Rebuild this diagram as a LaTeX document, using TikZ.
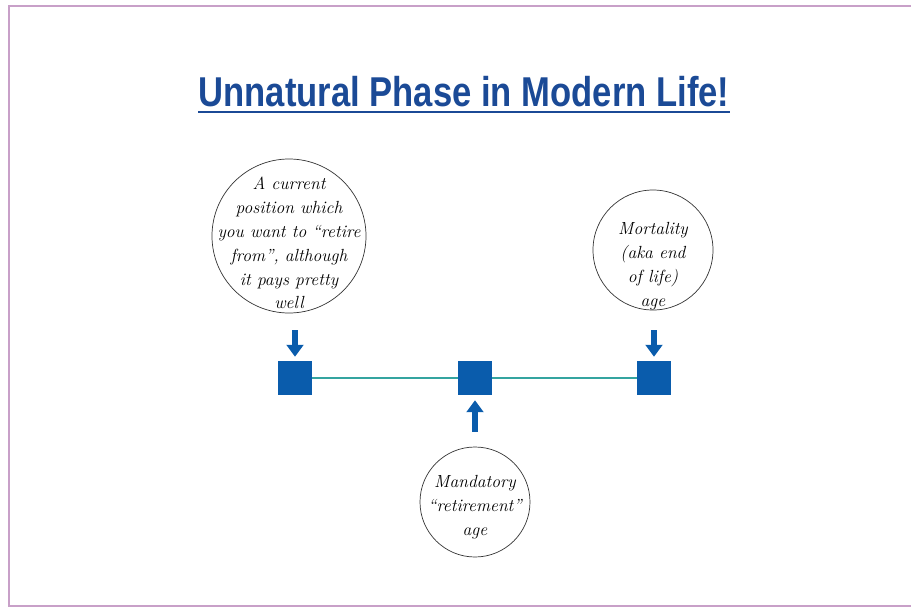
\documentclass[tikz,border=0pt]{standalone}
\usepackage{fontspec}
\usepackage{tikz}
\usetikzlibrary{arrows.meta}
\newfontfamily\headfont{Liberation Sans}

\definecolor{headblue}{RGB}{27,74,150}
\definecolor{boxblue}{RGB}{10,92,172}
\definecolor{linkteal}{RGB}{52,164,160}
\definecolor{framepink}{RGB}{200,160,200}

\begin{document}
\begin{tikzpicture}[x=0.03cm, y=-0.03cm,
        ring/.style = {draw=black!80, circle, semithick, inner sep=0pt},
        note/.style = {align=center, inner sep=0pt, font=\fontsize{15}{20.4}\selectfont\itshape},
        stage/.style = {fill=boxblue, minimum size=1.02cm, inner sep=0pt},
        pointer/.style = {draw=boxblue, line width=5pt, -{Triangle[width=0.5cm, length=0.36cm]}}]
            \useasboundingbox (0,0) rectangle (911,609);
            \draw[framepink, line width=2.5pt] (9,6) rectangle (930,606);

            \node[font=\headfont\fontsize{35.6}{40}\selectfont\bfseries, text=headblue] (T) at (464,92)
                {\scalebox{0.83}[1]{Unnatural Phase in Modern Life!}};
            \draw[headblue, line width=1.7pt] (198,112) -- (730,112);

            \node[stage] (A) at (295,378) {};
            \node[stage] (B) at (475,378) {};
            \node[stage] (C) at (654,378) {};

            % circles and the words inside them
            \node[ring, minimum size=4.62cm] (P) at (289,236) {};
            \node[note] (Pt) at (289,243) {A current\\position which\\you want to ``retire\\from'', although\\it pays pretty\\well};
            \node[ring, minimum size=3.6cm] (M) at (653,250) {};
            \node[note] (Mt) at (653,266) {Mortality\\(aka end\\of life)\\age};
            \node[ring, minimum size=3.3cm] (R) at (475,502) {};
            \node[note] (Rt) at (475,507) {Mandatory\\``retirement''\\age};

            \draw[linkteal, line width=1.7pt] (A) -- (B) -- (C);

            \draw[pointer, shorten <=0.51cm, shorten >=0.12cm] (A |- P.south) -- (A);
            \draw[pointer, shorten <=0.6cm, shorten >=0.12cm] (C |- M.south) -- (C);
            \draw[pointer, shorten <=0.45cm, shorten >=0.15cm] (B |- R.north) -- (B);
        \end{tikzpicture}
\end{document}
